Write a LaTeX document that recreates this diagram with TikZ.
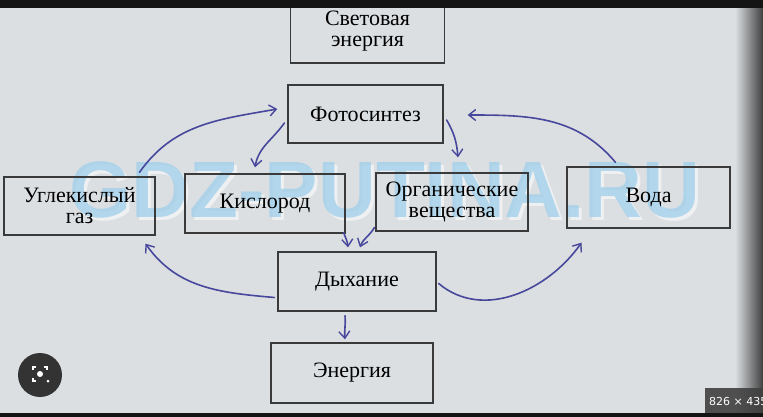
\documentclass[tikz,border=0pt]{standalone}
\usepackage{fontspec}
\setmainfont{Liberation Serif}
\newfontfamily\wmfont{Liberation Sans}
\newfontfamily\uifont{DejaVu Sans}
\usetikzlibrary{arrows.meta}
\definecolor{paper}{HTML}{DCDFE2}
\definecolor{ink}{HTML}{47479C}
\definecolor{boxline}{HTML}{3A3A3A}
\definecolor{wm}{HTML}{A3D0EA}
\tikzset{
  blk/.style={draw=boxline, line width=1.3pt, fill=none, align=center,
    font=\fontsize{22}{21}\selectfont, text=black, inner sep=0pt},
  arr/.style={draw=ink, line width=1.6pt, line cap=round,
    -{Straight Barb[length=7pt,width=11pt,line width=1.4pt]}},
}
\begin{document}
\begin{tikzpicture}[x=1pt,y=-1pt]
\useasboundingbox (0,0) rectangle (763,417);
\fill[paper] (0,0) rectangle (763,417);
\shade[left color=paper, right color=black!75] (735,0) rectangle (763,417);
% watermark
\node[text=white, opacity=0.55, font=\wmfont\bfseries\fontsize{80}{80}\selectfont, inner sep=0pt] (wmshadow) at (388,193) {GDZ-PUTINA.RU};
\node[text=wm, opacity=0.8, font=\wmfont\bfseries\fontsize{80}{80}\selectfont, inner sep=0pt] (wmark) at (385,190) {GDZ-PUTINA.RU};
% boxes
\node[blk, minimum width=154pt, minimum height=63pt] (sv) at (367.5,31.5) {Световая\\энергия};
\node[blk, minimum width=155pt, minimum height=58pt] (ph) at (365.5,114) {Фотосинтез};
\node[blk, minimum width=151pt, minimum height=58pt] (ug) at (79.5,206) {Углекислый\\газ};
\node[blk, minimum width=160pt, minimum height=59pt] (ki) at (265,203.5) {Кислород};
\node[blk, minimum width=152pt, minimum height=58pt] (or) at (452,202) {Органические\\вещества};
\node[blk, minimum width=163pt, minimum height=61pt] (vo) at (648.5,197.5) {Вода};
\node[blk, minimum width=158pt, minimum height=59pt] (dy) at (357,281.5) {Дыхание};
\node[blk, minimum width=162pt, minimum height=60pt] (en) at (352,373) {Энергия};
% arrows
\draw[arr] ([xshift=60pt,yshift=4pt]ug.north) to[out=55,in=190] ([xshift=-10pt,yshift=5pt]ph.west);
\draw[arr] ([xshift=-3pt,yshift=-9pt]ph.west) to[out=235,in=80] ([xshift=-10pt,yshift=6pt]ki.north);
\draw[arr] ([xshift=3pt,yshift=-6pt]ph.east) to[out=-60,in=95] ([xshift=6pt,yshift=15pt]or.north);
\draw[arr] ([xshift=-33pt,yshift=4pt]vo.north) to[out=130,in=0] ([xshift=24pt,yshift=-1pt]ph.east);
\draw[arr] ([xshift=-2pt,yshift=1pt]ki.south east) to[out=-70,in=95] ([xshift=-9pt,yshift=4pt]dy.north);
\draw[arr] ([xshift=-1pt,yshift=4pt]or.south west) to[out=240,in=70] ([xshift=3pt,yshift=4pt]dy.north);
\draw[arr] ([xshift=-3pt,yshift=-16pt]dy.west) to[out=175,in=-55] ([xshift=66pt,yshift=-8pt]ug.south);
\draw[arr] ([xshift=2pt,yshift=-2pt]dy.east) to[out=-40,in=235] ([xshift=-67pt,yshift=-14pt]vo.south);
\draw[arr] ([xshift=-12pt,yshift=-4pt]dy.south) to[out=-85,in=95] ([xshift=-7pt,yshift=3pt]en.north);
% frame elements
\fill[black!92] (0,0) rectangle (763,8);
\fill[black!92] (0,413) rectangle (763,417);
\fill[black!80] (40,375) circle (22pt);
\node[circle, fill=white, inner sep=0pt, minimum size=6pt] (lensdot) at (40,374) {};
\node[circle, fill=white, inner sep=0pt, minimum size=3pt] (lensdot2) at (48,381) {};
\draw[white, line width=1.5pt] (33,370) -- (33,367) -- (36,367);
\draw[white, line width=1.5pt] (44,367) -- (47,367) -- (47,370);
\draw[white, line width=1.5pt] (33,378) -- (33,381) -- (36,381);
\fill[black!75, opacity=0.9] (705,388) rectangle (763,413);
\node[text=white, font=\uifont\fontsize{11}{11}\selectfont, anchor=west, inner sep=0pt] (sizelbl) at (709,401) {826 × 435};
\end{tikzpicture}
\end{document}
